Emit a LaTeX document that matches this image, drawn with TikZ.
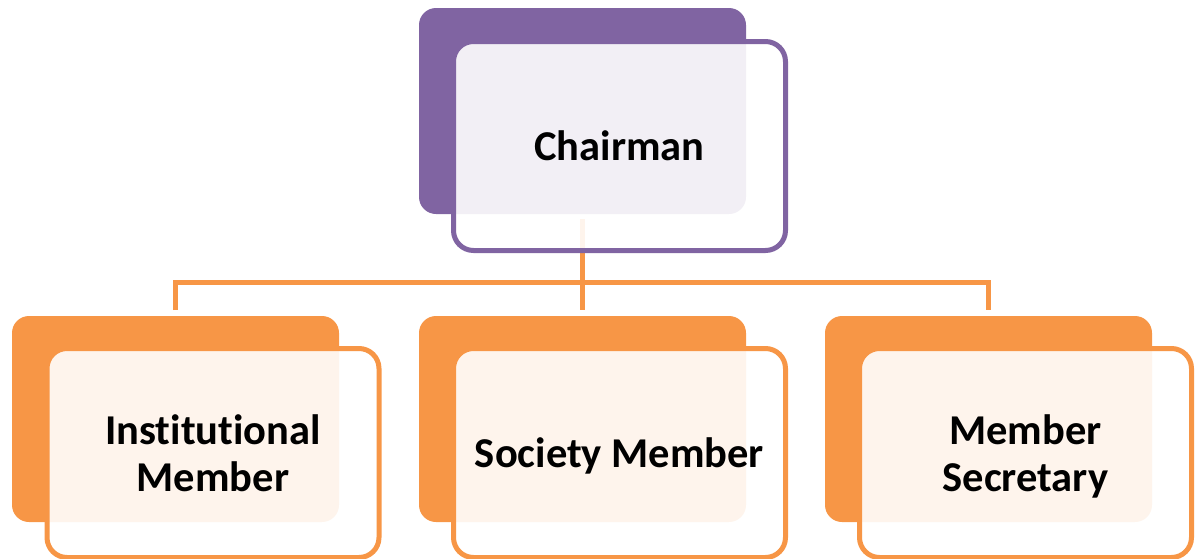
\documentclass[tikz,border=0pt]{standalone}
\usepackage{fontspec}
\setmainfont{Carlito}[Ligatures=NoCommon]
\definecolor{purp}{HTML}{8064A2}
\definecolor{orng}{HTML}{F79646}
\begin{document}
\begin{tikzpicture}[x=1pt,y=-1pt,
  backbox/.style={rounded corners=17pt, minimum width=327pt, minimum height=206pt, inner sep=0pt, outer sep=0pt},
  frontbox/.style={draw, line width=5pt, rounded corners=20pt, fill=white, fill opacity=0.9, text opacity=1, draw opacity=1,
    minimum width=332pt, minimum height=209pt, align=center, inner sep=0pt, outer sep=0pt,
    font=\fontsize{42.5}{47}\selectfont\bfseries},
  conn/.style={draw=orng, line width=5pt}]
\useasboundingbox (0,0) rectangle (1195,558);
% back boxes
\node[backbox, fill=purp] (cb) at (582.5,111) {};
\node[backbox, fill=orng] (ib) at (175.5,419) {};
\node[backbox, fill=orng] (sb) at (582.5,419) {};
\node[backbox, fill=orng] (mb) at (988.5,419) {};
% connectors
\coordinate (bus) at (0,282.5);
\draw[conn] ([yshift=-5pt]cb.south) -- ([yshift=6pt]sb.north);
\draw[conn] ([yshift=6pt]ib.north) |- (cb.south |- bus) -| ([yshift=6pt]mb.north);
% front boxes
\node[frontbox, draw=purp] (cf) at (619.5,146) {Chairman};
\node[frontbox, draw=orng] (if) at (213,453) {Institutional\\Member};
\node[frontbox, draw=orng, text depth=0pt] (sf) at (619.5,453) {Society Member};
\node[frontbox, draw=orng, text depth=0pt] (mf) at (1025.5,453) {Member\\Secretary};
\end{tikzpicture}
\end{document}
